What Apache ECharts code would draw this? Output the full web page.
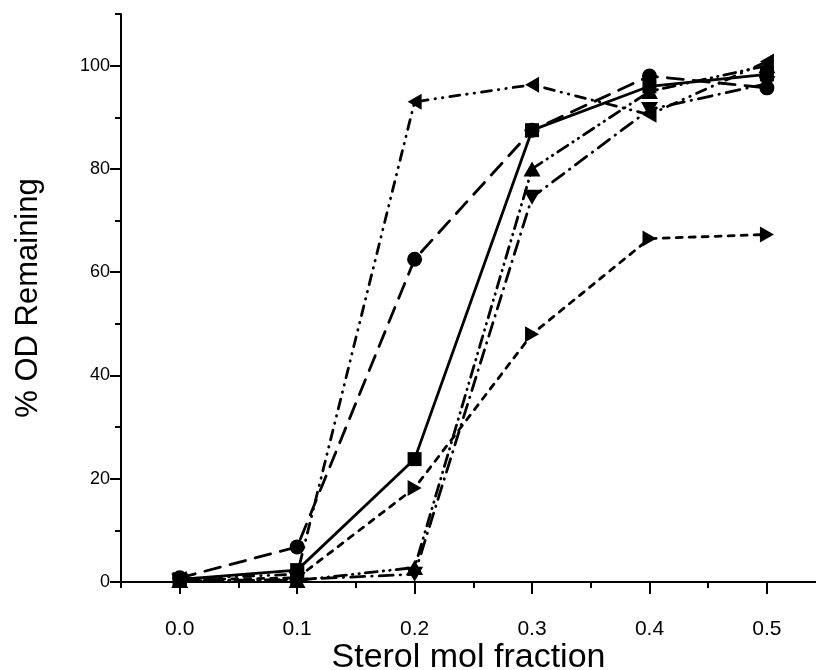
<!DOCTYPE html>
<html>
<head>
<meta charset="utf-8">
<script src="https://cdn.jsdelivr.net/npm/echarts@6/dist/echarts.min.js"></script>
<style>
html,body{margin:0;padding:0;background:#fff;}
#chart{width:816px;height:670px;}
</style>
</head>
<body>
<div id="chart"></div>
<script>
// ---- data ----
const xValues = [0.0, 0.1, 0.2, 0.3, 0.4, 0.5];
const squareVals = [0.5, 2.3, 23.8, 87.5, 96.0, 98.3];
const circleVals = [0.8, 6.8, 62.5, 87.5, 98.0, 95.7];
const upTriVals = [0.3, 0.3, 2.8, 80.0, 95.0, 100.0];
const downTriVals = [0.2, 0.5, 1.5, 74.5, 91.5, 96.5];
const leftTriVals = [0.6, 1.5, 93.0, 96.3, 90.5, 100.8];
const rightTriVals = [0.4, 0.8, 18.2, 48.0, 66.5, 67.3];
const xMajorTicks = [0.0, 0.1, 0.2, 0.3, 0.4, 0.5];
const xMinorTicks = [-0.05, 0.05, 0.15, 0.25, 0.35, 0.45];
const yMajorTicks = [0, 20, 40, 60, 80, 100];
const yMinorTicks = [10, 30, 50, 70, 90, 110];

const FONT = 'Liberation Sans, Arial, sans-serif';
const pairs = vals => xValues.map((x, i) => [x, vals[i]]);

function mkSeries(vals, symbol, size, rotate, dash) {
  return {
    type: 'line',
    data: pairs(vals),
    symbol: symbol,
    symbolSize: size,
    symbolRotate: rotate,
    showAllSymbol: true,
    itemStyle: { color: '#000' },
    lineStyle: { color: '#000', width: 2.8, type: dash, cap: 'round' },
    emphasis: { disabled: true },
    animation: false
  };
}

const chart = echarts.init(document.getElementById('chart'));
chart.setOption({
  animation: false,
  backgroundColor: '#fff',
  grid: { left: 121, top: 14, bottom: 88, right: 0, containLabel: false, outerBoundsMode: 'none' },
  xAxis: [
    {
      type: 'value', min: -0.05, max: 0.5418,
      name: 'Sterol mol fraction', nameLocation: 'middle', nameGap: 59, nameMoveOverlap: false,
      nameTextStyle: { fontFamily: FONT, fontSize: 34, color: '#000' },
      axisLine: { show: true, onZero: false, lineStyle: { color: '#000', width: 2 } },
      axisTick: { show: true, inside: false, length: 12, lineStyle: { color: '#000', width: 2 }, customValues: xMajorTicks },
      axisLabel: { show: true, margin: 37, fontFamily: FONT, fontSize: 21, color: '#000', customValues: xMajorTicks,
        formatter: v => Number(v).toFixed(1) },
      splitLine: { show: false }
    },
    {
      type: 'value', min: -0.05, max: 0.5418, position: 'bottom',
      axisLine: { show: false, onZero: false },
      axisTick: { show: true, inside: false, length: 6, lineStyle: { color: '#000', width: 2 }, customValues: xMinorTicks },
      axisLabel: { show: false },
      splitLine: { show: false }
    }
  ],
  yAxis: [
    {
      type: 'value', min: 0, max: 110,
      name: '% OD Remaining', nameLocation: 'middle', nameGap: 77, nameMoveOverlap: false,
      nameTextStyle: { fontFamily: FONT, fontSize: 31, color: '#000' },
      axisLine: { show: true, onZero: false, lineStyle: { color: '#000', width: 2 } },
      axisTick: { show: true, inside: false, length: 11, lineStyle: { color: '#000', width: 2 }, customValues: yMajorTicks },
      axisLabel: { show: true, margin: 11, fontFamily: FONT, fontSize: 18, color: '#000', customValues: yMajorTicks },
      splitLine: { show: false }
    },
    {
      type: 'value', min: 0, max: 110, position: 'left',
      axisLine: { show: false, onZero: false },
      axisTick: { show: true, inside: false, length: 6, lineStyle: { color: '#000', width: 2 }, customValues: yMinorTicks },
      axisLabel: { show: false },
      splitLine: { show: false }
    }
  ],
  series: [
    mkSeries(rightTriVals, 'triangle', [16, 14], -90, [6, 7]),
    mkSeries(downTriVals, 'triangle', [17, 15], 180, [14, 7, 0.5, 7]),
    mkSeries(upTriVals, 'triangle', [17, 15], 0, [12, 6, 0.5, 6, 0.5, 6]),
    mkSeries(leftTriVals, 'triangle', [16, 14], 90, [10, 7, 0.5, 7, 0.5, 7]),
    mkSeries(circleVals, 'circle', 15, 0, [16, 10]),
    mkSeries(squareVals, 'rect', 14, 0, 'solid')
  ]
});
</script>
</body>
</html>
